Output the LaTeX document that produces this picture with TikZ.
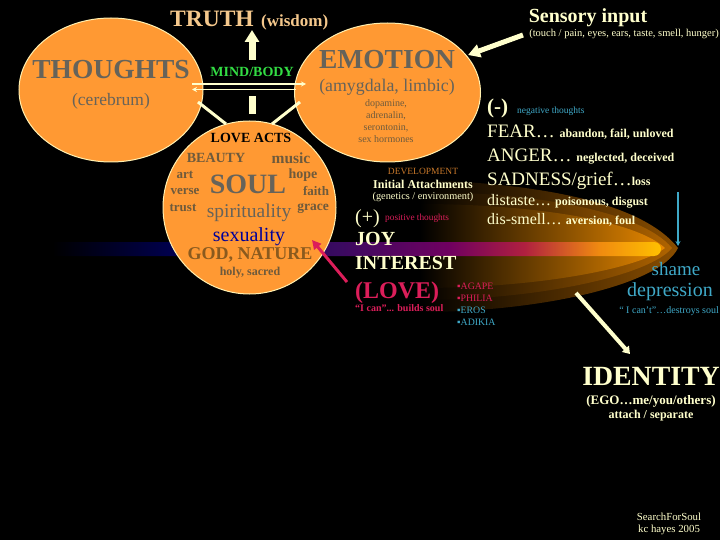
\documentclass[tikz,border=0pt]{standalone}
\usepackage{fontspec}
\setmainfont{Liberation Serif}
\usetikzlibrary{arrows.meta,calc,shapes.geometric}
\definecolor{orb}{HTML}{FF9933}
\definecolor{orbedge}{HTML}{FFF0B0}
\definecolor{cream}{HTML}{FFFFCC}
\definecolor{grayt}{HTML}{66635A}
\definecolor{brownt}{HTML}{6E5A3C}
\definecolor{godt}{HTML}{8A5A1E}
\definecolor{truth}{HTML}{F5C88C}
\definecolor{skyb}{HTML}{3FA9C8}
\definecolor{crim}{HTML}{DC1E5A}
\definecolor{mindg}{HTML}{33DD44}
\definecolor{devt}{HTML}{C8782A}
\definecolor{glowa}{HTML}{8A4E00}
\definecolor{glowb}{HTML}{B06400}
\definecolor{glowc}{HTML}{E88800}
\definecolor{glowam}{HTML}{4A2A00}
\definecolor{glowbm}{HTML}{643800}
\definecolor{glowcm}{HTML}{8F5200}
\definecolor{bnda}{HTML}{000050}
\definecolor{bndb}{HTML}{3A0A60}
\definecolor{bndc}{HTML}{700060}
\definecolor{bndd}{HTML}{B02040}
\definecolor{bnde}{HTML}{F08A10}
\definecolor{bndf}{HTML}{FFC000}
\pgfdeclarehorizontalshading{bandshade}{100bp}{
 color(0bp)=(black);
 color(26bp)=(black);
 color(36bp)=(bnda);
 color(49bp)=(bndb);
 color(58bp)=(bndc);
 color(64bp)=(bndd);
 color(70bp)=(bnde);
 color(75bp)=(bndf);
 color(100bp)=(bndf)}
\tikzset{
 orbell/.style={ellipse,fill=orb,draw=orbedge,line width=1pt,inner sep=0pt},
 orbcirc/.style={circle,fill=orb,draw=orbedge,line width=1pt,inner sep=0pt},
 t/.style={inner sep=0pt,align=center,font=\bfseries},
 rr/.style={inner sep=0pt,align=center},
 wideline/.style={cream,line width=3pt},
}
\begin{document}
\begin{tikzpicture}[x=1pt,y=-1pt]
\useasboundingbox (0,0) rectangle (720,540);
\fill[black] (0,0) rectangle (720,540);
% glow
\shade[left color=black,middle color=glowam,right color=glowa]
 (420,180) .. controls (530,183) and (640,200) .. (678,248)
 .. controls (660,285) and (540,312) .. (420,312) -- cycle;
\shade[left color=black,middle color=glowbm,right color=glowb]
 (420,192) .. controls (530,192) and (640,210) .. (672,248)
 .. controls (650,275) and (540,300) .. (420,300) -- cycle;
\shade[left color=black,middle color=glowcm,right color=glowc]
 (420,204) .. controls (530,204) and (635,220) .. (665,248)
 .. controls (640,268) and (540,288) .. (420,288) -- cycle;
% band
\path[shading=bandshade] (40,242) -- (654,242) arc[start angle=-90,end angle=90,radius=7] -- (40,256) -- cycle;
% orbs
\node[orbell,minimum width=184pt,minimum height=144pt] (thoughts) at (111,90) {};
\node[orbell,minimum width=186pt,minimum height=139pt] (emotion) at (387.5,92.5) {};
\node[orbcirc,minimum size=173pt] (soul) at (249.5,207.5) {};
\coordinate (thr) at (192,84); \coordinate (emr) at (306,84);
\coordinate (thl) at (192,89.5); \coordinate (eml) at (296,89.5);
\draw[cream,line width=1.5pt,-{Stealth[length=5pt,width=5pt]}] (thr)--(emr);
\draw[cream,line width=1.5pt,-{Stealth[length=5pt,width=5pt]}] (eml)--(thl);
\coordinate (thb) at (198,102); \coordinate (sl) at (226,124);
\coordinate (emb) at (300,102); \coordinate (srt) at (272,124);
\draw[wideline] (thb)--(sl);
\draw[wideline] (emb)--(srt);
\coordinate (upa) at (252,60); \coordinate (upb) at (252,30);
\draw[cream,line width=7pt,-{Triangle[length=12pt,width=14pt]}] (upa)--(upb);
\coordinate (upc) at (252,114); \coordinate (upd) at (252,96);
\draw[cream,line width=7pt] (upc)--(upd);
% sensory arrow
\coordinate (sa) at (523,35); \coordinate (sb) at (468,55);
\draw[cream,line width=5pt,-{Triangle[length=12pt,width=13pt]}] (sa)--(sb);
% pink arrow
\coordinate (pa) at (347,282); \coordinate (pb) at (312,240);
\draw[crim,line width=3pt,-{Triangle[length=9pt,width=9pt]}] (pa)--(pb);
% cream diagonal
\coordinate (ca) at (576,293); \coordinate (cb) at (630,354);
\draw[cream,line width=4pt,-{Triangle[length=7pt,width=9pt]}] (ca)--(cb);
% blue arrow
\coordinate (ba) at (678,192); \coordinate (bb) at (678,246);
\draw[skyb,line width=1.5pt,-{Stealth[length=5pt,width=5pt]}] (ba)--(bb);
% text
\node[t,text=truth,anchor=base west,font=\bfseries\fontsize{23.5}{23}\selectfont] (tr) at (170,27) {TRUTH};
\node[t,text=truth,anchor=base west,font=\bfseries\fontsize{17}{17}\selectfont] (wi) at (261,27) {(wisdom)};
\node[t,text=grayt,font=\bfseries\fontsize{27.5}{26}\selectfont] (n1) at (111,70) {THOUGHTS};
\node[rr,text=grayt,font=\fontsize{17.5}{16}\selectfont] (n2) at (111,101) {(cerebrum)};
\node[t,text=mindg,font=\bfseries\fontsize{14}{12}\selectfont] (n3) at (252,72) {MIND/BODY};
\node[t,text=grayt,font=\bfseries\fontsize{27.5}{27}\selectfont] (n4) at (387,60) {EMOTION};
\node[rr,text=grayt,font=\fontsize{17.8}{17}\selectfont] (n5) at (387,87) {(amygdala, limbic)};
\node[rr,text=brownt,font=\fontsize{10}{12}\selectfont] (n6) at (386,121) {dopamine,\\adrenalin,\\serontonin,\\sex hormones};
\node[t,text=black,font=\bfseries\fontsize{14}{13}\selectfont] (n7) at (251,138) {LOVE ACTS};
\node[t,text=brownt,font=\bfseries\fontsize{14}{13}\selectfont] (n8) at (216,158) {BEAUTY};
\node[t,text=brownt,font=\bfseries\fontsize{15.5}{15}\selectfont] (n9) at (291,158) {music};
\node[t,text=brownt,font=\bfseries\fontsize{13}{13}\selectfont] (n10) at (185,175) {art};
\node[t,text=brownt,font=\bfseries\fontsize{14}{13}\selectfont] (n11) at (303,175) {hope};
\node[t,text=brownt,font=\bfseries\fontsize{13}{13}\selectfont] (n12) at (185,191) {verse};
\node[t,text=brownt,font=\bfseries\fontsize{13}{13}\selectfont] (n13) at (316,191) {faith};
\node[t,text=brownt,font=\bfseries\fontsize{13}{13}\selectfont] (n14) at (183,208) {trust};
\node[t,text=brownt,font=\bfseries\fontsize{13.5}{13}\selectfont] (n15) at (313,209) {grace};
\node[t,text=grayt,font=\bfseries\fontsize{28}{30}\selectfont] (n16) at (248,184) {SOUL};
\node[rr,text=grayt,font=\fontsize{19.5}{18}\selectfont] (n17) at (249,213) {spirituality};
\node[rr,text=blue!60!black,font=\fontsize{20}{18}\selectfont] (n18) at (249,237) {sexuality};
\node[t,text=godt,font=\bfseries\fontsize{18}{17}\selectfont] (n19) at (250,255) {GOD, NATURE};
\node[t,text=brownt,font=\bfseries\fontsize{12}{11}\selectfont] (n20) at (250,273) {holy, sacred};
\node[t,text=cream,font=\bfseries\fontsize{20}{18}\selectfont,anchor=base] (n21) at (588,23) {Sensory input};
\node[rr,text=cream,font=\fontsize{10.5}{10}\selectfont,anchor=base east] (n22) at (719,37) {(touch / pain, eyes, ears, taste, smell, hunger)};
\node[rr,text=cream,font=\bfseries\fontsize{21}{21}\selectfont,anchor=base west] (n23) at (487,114) {(-)};
\node[rr,text=skyb,font=\fontsize{9.5}{9}\selectfont,anchor=base west] (n24) at (517,114) {negative thoughts};
\node[rr,text=cream,anchor=base west] (n25) at (487,138) {\fontsize{19}{19}\selectfont FEAR\ldots{} \bfseries\fontsize{12}{12}\selectfont abandon, fail, unloved};
\node[rr,text=cream,anchor=base west] (n26) at (487,162) {\fontsize{19}{19}\selectfont ANGER\ldots{} \bfseries\fontsize{12}{12}\selectfont neglected, deceived};
\node[rr,text=cream,anchor=base west] (n27) at (487,186) {\fontsize{19}{19}\selectfont SADNESS/grief\ldots\bfseries\fontsize{12}{12}\selectfont loss};
\node[rr,text=cream,anchor=base west] (n28) at (487,206) {\fontsize{16}{16}\selectfont distaste\ldots{} \bfseries\fontsize{12}{12}\selectfont poisonous, disgust};
\node[rr,text=cream,anchor=base west] (n29) at (487,225) {\fontsize{16}{16}\selectfont dis-smell\ldots{} \bfseries\fontsize{12}{12}\selectfont aversion, foul};
\node[t,text=devt,font=\fontsize{9.5}{9}\selectfont] (n30) at (423,171) {DEVELOPMENT};
\node[t,text=cream,font=\bfseries\fontsize{12}{12}\selectfont] (n31) at (423,184) {Initial Attachments};
\node[rr,text=cream,font=\fontsize{10.3}{10}\selectfont] (n32) at (423,197) {(genetics / environment)};
\node[rr,text=cream,font=\fontsize{20}{20}\selectfont,anchor=base west] (n33) at (355,223) {(+)};
\node[rr,text=crim,font=\fontsize{9.3}{9}\selectfont,anchor=base west] (n34) at (385,221) {positive thoughts};
\node[t,text=cream,font=\fontsize{20}{19}\selectfont\bfseries,anchor=base west] (n35) at (355,245) {JOY};
\node[t,text=cream,font=\fontsize{20}{19}\selectfont\bfseries,anchor=base west] (n36) at (355,269) {INTEREST};
\node[t,text=crim,font=\fontsize{24}{27}\selectfont\bfseries,anchor=base west] (n37) at (355,298) {(LOVE)};
\node[rr,text=crim,font=\fontsize{10}{11}\selectfont\bfseries,anchor=base west] (n38) at (355,311) {``I can''... builds soul};
\node[rr,text=crim,font=\fontsize{9.8}{10}\selectfont,anchor=base west] (n39) at (457,289) {▪AGAPE};
\node[rr,text=crim,font=\fontsize{9.8}{10}\selectfont,anchor=base west] (n40) at (457,301) {▪PHILIA};
\node[rr,text=skyb,font=\fontsize{9.8}{10}\selectfont,anchor=base west] (n41) at (457,313) {▪EROS};
\node[rr,text=skyb,font=\fontsize{9.8}{10}\selectfont,anchor=base west] (n42) at (457,325) {▪ADIKIA};
\node[rr,text=skyb,font=\fontsize{19}{18}\selectfont] (n43) at (676,269) {shame};
\node[rr,text=skyb,font=\fontsize{20}{18}\selectfont] (n44) at (670,292) {depression};
\node[rr,text=skyb,font=\fontsize{10}{10}\selectfont,anchor=base east] (n45) at (719,313) {`` I can't''\ldots destroys soul};
\node[t,text=cream,font=\bfseries\fontsize{27.8}{26}\selectfont] (n46) at (651,376) {IDENTITY};
\node[t,text=cream,font=\bfseries\fontsize{13}{11}\selectfont] (n47) at (651,401) {(EGO\ldots me/you/others)};
\node[t,text=cream,font=\bfseries\fontsize{12}{11}\selectfont] (n48) at (651,416) {attach / separate};
\node[rr,text=cream,font=\fontsize{10.8}{11.5}\selectfont] (n49) at (669,524) {SearchForSoul\\kc hayes 2005};
\end{tikzpicture}
\end{document}
